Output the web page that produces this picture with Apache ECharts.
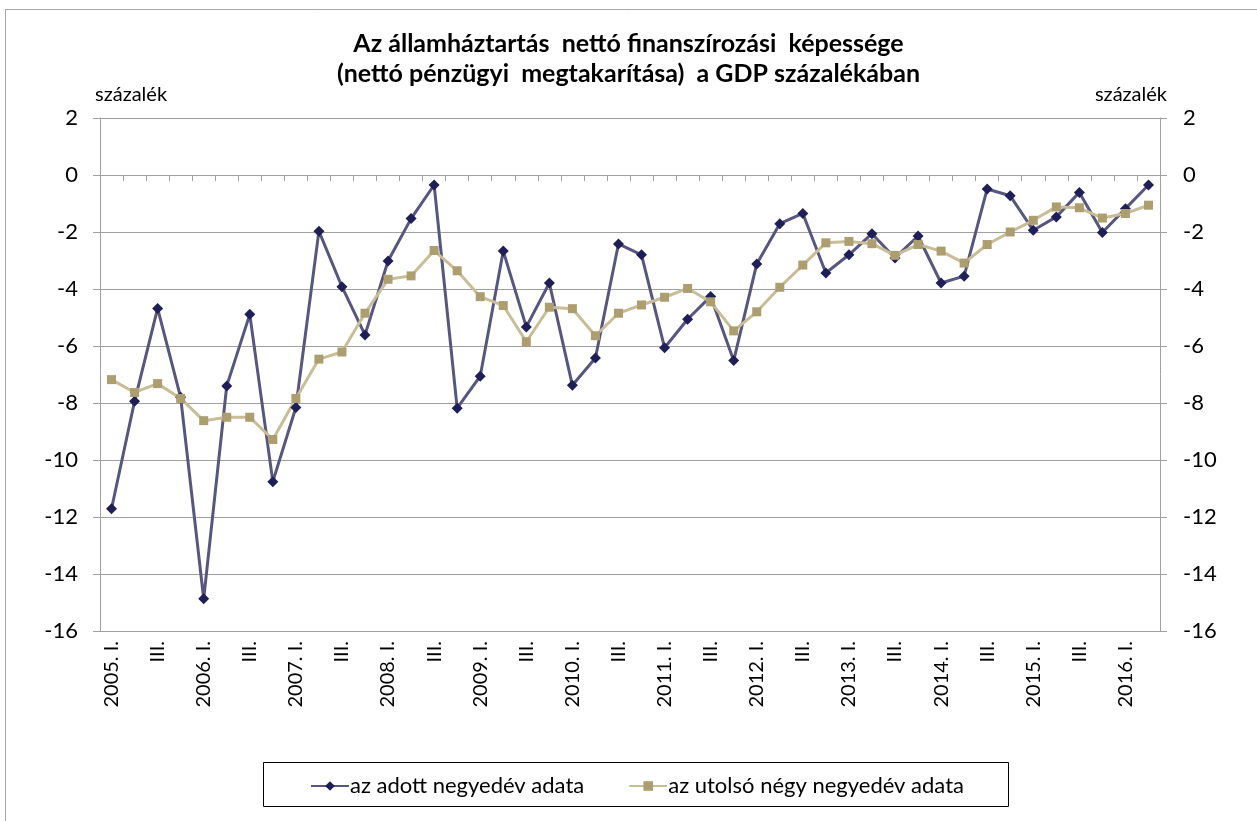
<!DOCTYPE html>
<html>
<head>
<meta charset="utf-8">
<script src="https://cdn.jsdelivr.net/npm/echarts@6/dist/echarts.min.js"></script>
<style>
html,body{margin:0;padding:0;background:#fff;}
#c{width:1257px;height:821px;}
</style>
</head>
<body>
<div id="c"></div>
<script>
const categories = [
  "2005. I.","II.","III.","IV.",
  "2006. I.","II.","III.","IV.",
  "2007. I.","II.","III.","IV.",
  "2008. I.","II.","III.","IV.",
  "2009. I.","II.","III.","IV.",
  "2010. I.","II.","III.","IV.",
  "2011. I.","II.","III.","IV.",
  "2012. I.","II.","III.","IV.",
  "2013. I.","II.","III.","IV.",
  "2014. I.","II.","III.","IV.",
  "2015. I.","II.","III.","IV.",
  "2016. I.","II."
];
const quarterly = [
  -11.71, -7.94, -4.68, -7.80,
  -14.87, -7.40, -4.89, -10.76,
  -8.16, -1.97, -3.92, -5.61,
  -3.02, -1.53, -0.35, -8.18,
  -7.06, -2.67, -5.33, -3.79,
  -7.38, -6.42, -2.42, -2.80,
  -6.06, -5.06, -4.26, -6.51,
  -3.12, -1.71, -1.35, -3.44,
  -2.80, -2.06, -2.91, -2.14,
  -3.79, -3.55, -0.49, -0.73,
  -1.94, -1.47, -0.61, -2.02,
  -1.18, -0.35
];
const rolling = [
  -7.18, -7.63, -7.32, -7.84,
  -8.62, -8.50, -8.50, -9.28,
  -7.84, -6.46, -6.21, -4.85,
  -3.66, -3.54, -2.65, -3.36,
  -4.27, -4.58, -5.85, -4.64,
  -4.69, -5.64, -4.85, -4.56,
  -4.29, -3.98, -4.45, -5.47,
  -4.80, -3.94, -3.16, -2.38,
  -2.33, -2.41, -2.82, -2.44,
  -2.67, -3.09, -2.44, -2.00,
  -1.59, -1.12, -1.15, -1.51,
  -1.35, -1.06
];
const seriesNames = ["az adott negyedév adata", "az utolsó négy negyedév adata"];
const titleLines = ["Az államháztartás  nettó finanszírozási  képessége", "(nettó pénzügyi  megtakarítása)  a GDP százalékában"];
const unitLabel = "százalék";

const FONT = "Lato, 'Open Sans', sans-serif";
const chart = echarts.init(document.getElementById('c'), null, {renderer: 'canvas'});
const axisGray = '#a0a0a0';

const yAxisBase = {
  type: 'value', min: -16, max: 2, interval: 2,
  axisLine: {show: true, lineStyle: {color: axisGray, width: 1}},
  axisTick: {show: true, length: 7, lineStyle: {color: axisGray}},
  splitLine: {show: false},
  axisLabel: {color: '#000', fontFamily: FONT, fontSize: 22}
};

chart.setOption({
  animation: false,
  backgroundColor: '#fff',
  title: {
    text: titleLines.join('\n'),
    left: 'center', top: 24,
    textStyle: {fontFamily: FONT, fontWeight: 'bold', fontSize: 25, color: '#000', lineHeight: 30}
  },
  graphic: [
    {type: 'rect', shape: {x: 5.5, y: 9.5, width: 1300, height: 900}, style: {fill: 'none', stroke: '#a6a6a6', lineWidth: 1}, silent: true},
    {type: 'rect', shape: {x: 263.5, y: 762.5, width: 745, height: 44}, style: {fill: 'none', stroke: '#000', lineWidth: 1}, silent: true},
    {type: 'text', x: 95, y: 95, style: {text: unitLabel, fontSize: 20, fontFamily: 'Lato', fill: '#000', verticalAlign: 'middle'}},
    {type: 'text', x: 1167, y: 95, style: {text: unitLabel, fontSize: 20, fontFamily: 'Lato', fill: '#000', align: 'right', verticalAlign: 'middle'}}
  ],
  legend: {
    left: 305, top: 770,
    itemWidth: 38, itemHeight: 12, itemGap: 44,
    textStyle: {fontFamily: FONT, fontSize: 22, color: '#000', padding: [0,0,0,-4]},
    data: seriesNames
  },
  grid: {left: 100, right: 97, top: 118, bottom: 190, containLabel: false},
  xAxis: {
    type: 'category', data: categories, boundaryGap: true,
    axisLine: {show: true, lineStyle: {color: axisGray}},
    axisTick: {show: true, interval: 0, length: 6, lineStyle: {color: axisGray}},
    axisLabel: {interval: 1, rotate: 90, margin: 10, color: '#000', fontFamily: FONT, fontSize: 20},
    splitLine: {show: false}
  },
  yAxis: [
    Object.assign({}, yAxisBase, {position: 'left', axisLabel: Object.assign({}, yAxisBase.axisLabel, {margin: 22}),
      splitLine: {show: true, lineStyle: {color: axisGray, width: 1}}}),
    Object.assign({}, yAxisBase, {position: 'right', axisLabel: Object.assign({}, yAxisBase.axisLabel, {margin: 23})})
  ],
  series: [
    {
      name: seriesNames[0], type: 'line', data: quarterly, yAxisIndex: 0,
      symbol: 'diamond', symbolSize: 11, showAllSymbol: true,
      lineStyle: {color: '#56567f', width: 3},
      itemStyle: {color: '#1f1f58', borderWidth: 0}
    },
    {
      name: seriesNames[1], type: 'line', data: rolling, yAxisIndex: 0,
      symbol: 'rect', symbolSize: 9, showAllSymbol: true,
      lineStyle: {color: '#c9bd98', width: 3},
      itemStyle: {color: '#ad9e70', borderWidth: 0}
    }
  ]
});
</script>
</body>
</html>
